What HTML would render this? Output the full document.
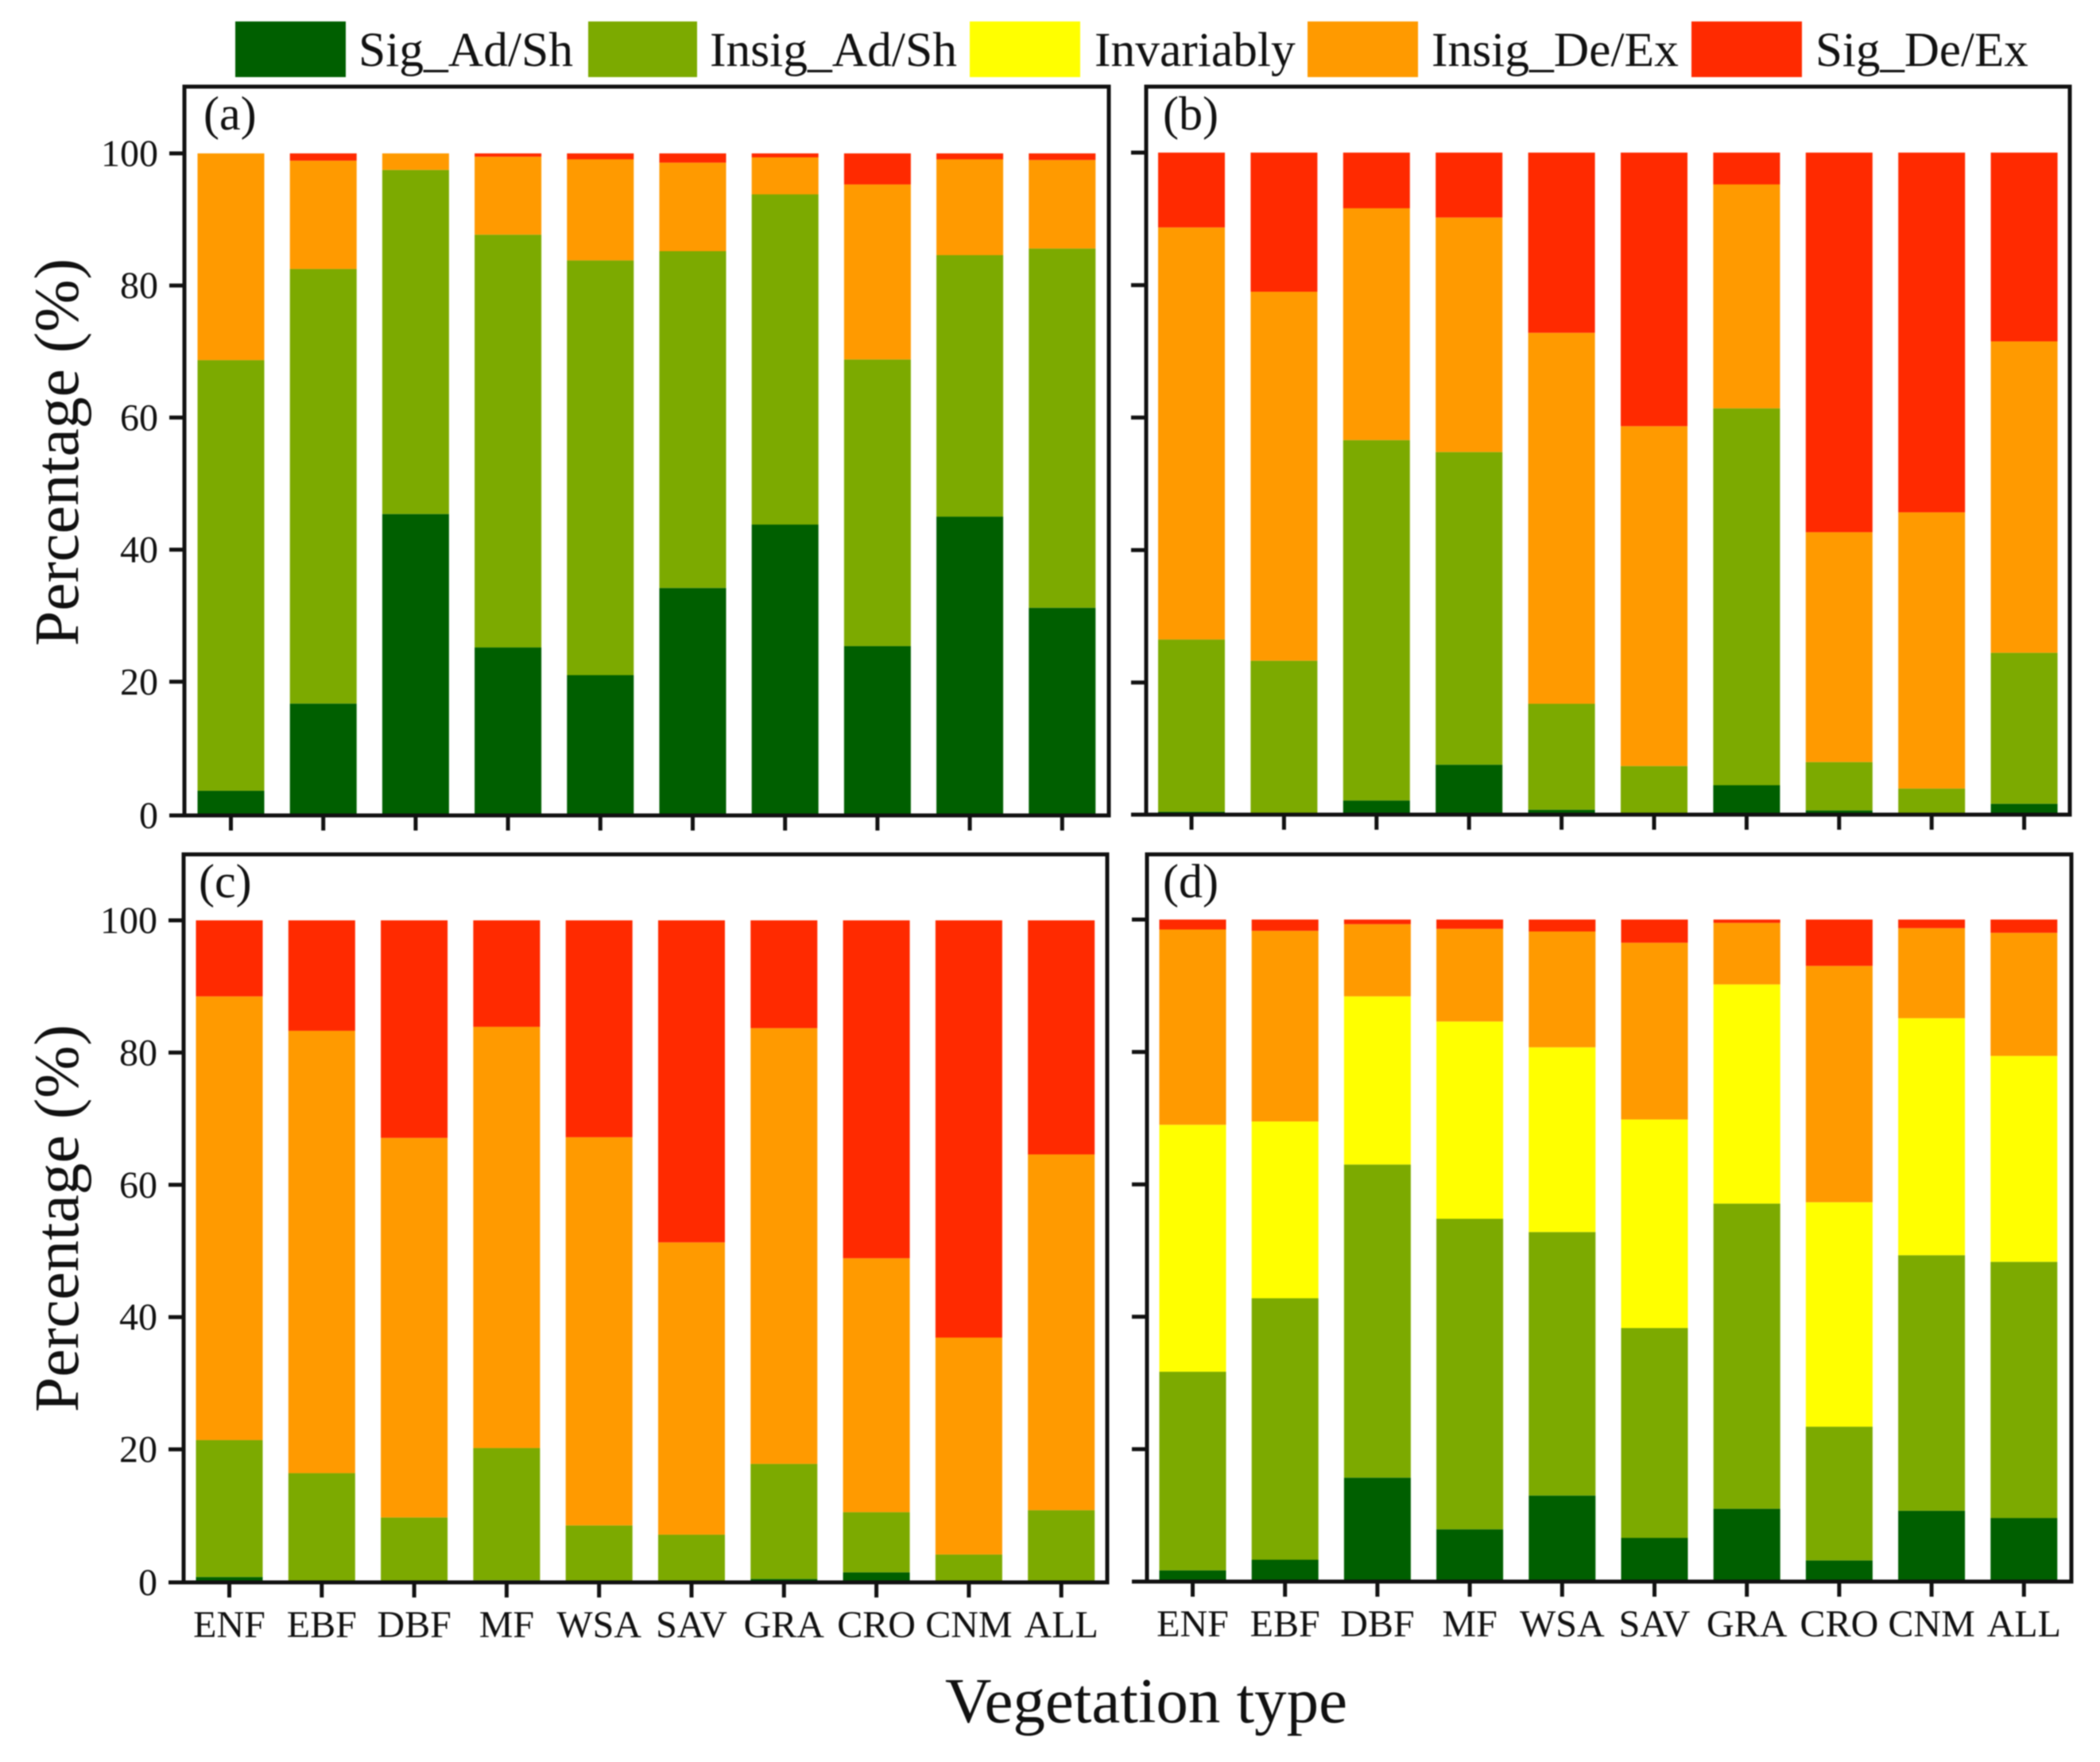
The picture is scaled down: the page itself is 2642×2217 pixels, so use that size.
<!DOCTYPE html>
<html lang="en">
<head>
<meta charset="utf-8">
<title>Percentage by vegetation type</title>
<style>
html,body{margin:0;padding:0;background:#fff;}
svg{display:block;filter:blur(0.7px);}
text{font-family:"Liberation Serif",serif;fill:#111;}
</style>
</head>
<body>
<svg id="chart" xmlns="http://www.w3.org/2000/svg" width="2642" height="2217" viewBox="0 0 2642 2217">
  <rect x="0" y="0" width="2642" height="2217" fill="#fff"/>
  <g>
    <g>
      <rect x="296" y="27" width="139" height="70" fill="#005f00"/>
      <text x="451" y="83" font-size="61.5">Sig_Ad/Sh</text>
    </g>
    <g>
      <rect x="740" y="27" width="137" height="70" fill="#7caa00"/>
      <text x="893" y="83" font-size="61.5">Insig_Ad/Sh</text>
    </g>
    <g>
      <rect x="1220" y="27" width="139" height="70" fill="#ffff00"/>
      <text x="1377" y="83" font-size="61.5">Invariably</text>
    </g>
    <g>
      <rect x="1645" y="27" width="139" height="70" fill="#ff9a00"/>
      <text x="1801" y="83" font-size="61.5">Insig_De/Ex</text>
    </g>
    <g>
      <rect x="2128" y="27" width="139" height="70" fill="#ff2a00"/>
      <text x="2284" y="83" font-size="61">Sig_De/Ex</text>
    </g>
  </g>
  <g id="panels"></g>
  <text transform="translate(98,569) rotate(-90)" text-anchor="middle" font-size="79.5">Percentage (%)</text>
  <text transform="translate(98,1533) rotate(-90)" text-anchor="middle" font-size="79.5">Percentage (%)</text>
  <text x="1442" y="2167" text-anchor="middle" font-size="81">Vegetation type</text>
</svg>
<script>
// Categories and tick labels
const categories = ['ENF','EBF','DBF','MF','WSA','SAV','GRA','CRO','CNM','ALL'];
const yTicks = [0,20,40,60,80,100];

// Panel (a) series values, percent
const aSigAdSh   = [3.5,16.7,45.4,25.2,21,34.2,43.8,25.4,45,31.2];
const aInsigAdSh = [65.2,65.8,52.1,62.5,62.8,51,50,43.4,39.6,54.4];
const aInvariably= [0,0,0,0,0,0,0,0,0,0];
const aInsigDeEx = [31.3,16.4,2.5,11.8,15.3,13.4,5.6,26.5,14.5,13.4];
const aSigDeEx   = [0,1.1,0,0.5,0.9,1.4,0.6,4.7,0.9,1];

// Panel (b) series values, percent
const bSigAdSh   = [0.5,0.3,2.2,7.6,0.8,0.2,4.5,0.7,0.1,1.7];
const bInsigAdSh = [26,23,54.4,47.2,16,7.2,56.9,7.3,3.9,22.8];
const bInvariably= [0,0,0,0,0,0,0,0,0,0];
const bInsigDeEx = [62.2,55.7,35,35.4,56,51.3,33.8,34.7,41.7,47];
const bSigDeEx   = [11.3,21,8.4,9.8,27.2,41.3,4.8,57.3,54.3,28.5];

// Panel (c) series values, percent
const cSigAdSh   = [0.7,0.1,0.1,0.2,0.1,0.1,0.4,1.4,0.1,0.1];
const cInsigAdSh = [20.7,16.3,9.6,20,8.4,7,17.4,9.1,4,10.7];
const cInvariably= [0,0,0,0,0,0,0,0,0,0];
const cInsigDeEx = [67.1,66.9,57.4,63.7,58.7,44.2,65.9,38.4,32.8,53.8];
const cSigDeEx   = [11.5,16.7,32.9,16.1,32.8,48.7,16.3,51.1,63.1,35.4];

// Panel (d) series values, percent
const dSigAdSh   = [1.7,3.3,15.7,7.9,13,6.6,11,3.2,10.7,9.6];
const dInsigAdSh = [30,39.5,47.3,46.9,39.8,31.7,46.1,20.2,38.6,38.7];
const dInvariably= [37.3,26.7,25.4,29.8,27.9,31.5,33.1,33.9,35.8,31.1];
const dInsigDeEx = [29.5,28.8,10.9,14,17.5,26.7,9.3,35.7,13.6,18.6];
const dSigDeEx   = [1.5,1.7,0.7,1.4,1.8,3.5,0.5,7,1.3,2];

const seriesKeys = ['sig-ad-sh','insig-ad-sh','invariably','insig-de-ex','sig-de-ex'];
const seriesColors = ['#005f00','#7caa00','#ffff00','#ff9a00','#ff2a00'];

const NS = 'http://www.w3.org/2000/svg';
const root = document.getElementById('panels');

function make(tag, attrs, parent) {
  const el = document.createElementNS(NS, tag);
  for (const k in attrs) el.setAttribute(k, attrs[k]);
  parent.appendChild(el);
  return el;
}

function drawPanel(cfg) {
  const g = make('g', {}, root);
  
  

  const yScale = v => cfg.y0 - (v / 100) * (cfg.y0 - cfg.y100);
  const xScale = i => cfg.cx0 + i * cfg.pitch;
  const barW = 84;

  categories.forEach((cat, i) => {
    let acc = 0;
    cfg.series.forEach((vals, s) => {
      const v = vals[i];
      if (v > 0) {
        const top = yScale(acc + v);
        const bot = yScale(acc);
        const r = make('rect', {x: xScale(i) - barW / 2, y: top, width: barW, height: bot - top, fill: seriesColors[s]}, g);
        
        
      }
      acc += v;
    });
  });

  const frame = make('rect', {x: cfg.left, y: cfg.top, width: cfg.right - cfg.left, height: cfg.bottom - cfg.top, fill: 'none', stroke: '#111', 'stroke-width': 5}, g);
  
  

  yTicks.forEach(t => {
    const y = t === 0 ? cfg.bottom : yScale(t);
    const tick = make('line', {x1: cfg.left - 19, x2: cfg.left, y1: y, y2: y, stroke: '#111', 'stroke-width': 5}, g);
    
    
    if (cfg.showY) {
      const lab = make('text', {x: cfg.left - 33, y: y + 16, 'text-anchor': 'end', 'font-size': 48}, g);
      lab.textContent = String(t);
      
      
    }
  });

  categories.forEach((cat, i) => {
    const x = xScale(i);
    const tick = make('line', {x1: x, x2: x, y1: cfg.bottom, y2: cfg.bottom + 19, stroke: '#111', 'stroke-width': 5}, g);
    
    
    if (cfg.showX) {
      const lab = make('text', {x: x, y: cfg.bottom + 69, 'text-anchor': 'middle', 'font-size': 48}, g);
      lab.textContent = cat;
      
      
    }
  });

  const tag = make('text', {x: cfg.left + cfg.tagDx, y: cfg.top + 54, 'font-size': 60}, g);
  tag.textContent = '(' + cfg.id + ')';
  
  
}

drawPanel({id:'a', left:232, right:1395, top:109, bottom:1026, y0:1024, y100:193, cx0:290.5, pitch:116.2, showY:true, showX:false, tagDx:24,
  series:[aSigAdSh,aInsigAdSh,aInvariably,aInsigDeEx,aSigDeEx]});
drawPanel({id:'b', left:1442, right:2604, top:109, bottom:1025, y0:1025.5, y100:192, cx0:1499, pitch:116.4, showY:false, showX:false, tagDx:21,
  series:[bSigAdSh,bInsigAdSh,bInvariably,bInsigDeEx,bSigDeEx]});
drawPanel({id:'c', left:231, right:1393, top:1075, bottom:1991, y0:1990, y100:1158, cx0:288.5, pitch:116.3, showY:true, showX:true, tagDx:19,
  series:[cSigAdSh,cInsigAdSh,cInvariably,cInsigDeEx,cSigDeEx]});
drawPanel({id:'d', left:1443, right:2606, top:1075, bottom:1990, y0:1990, y100:1157, cx0:1500.5, pitch:116.2, showY:false, showX:true, tagDx:20,
  series:[dSigAdSh,dInsigAdSh,dInvariably,dInsigDeEx,dSigDeEx]});
</script>
</body>
</html>
